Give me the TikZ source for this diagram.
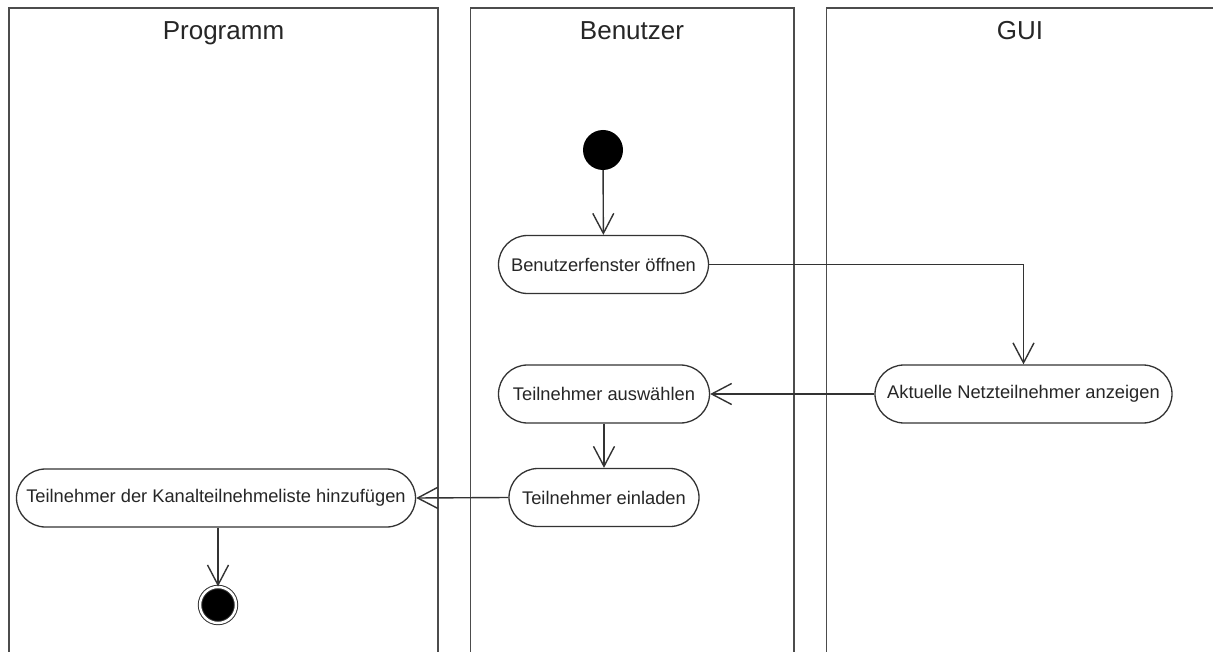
\documentclass[tikz,border=0pt]{standalone}
\usepackage{fontspec}
\setmainfont{Liberation Sans}
\usetikzlibrary{arrows.meta}
\begin{document}
\begin{tikzpicture}[x=1pt,y=-1pt,
  lane/.style={draw=black!70, line width=1.8pt},
  lanetitle/.style={font=\fontsize{26}{30}\selectfont, text=black!85, inner sep=0pt, anchor=base},
  action/.style={rectangle, rounded corners=29pt, draw=black!80, line width=1.3pt,
    minimum height=58pt, inner sep=0pt, font=\fontsize{18.3}{21}\selectfont, text=black!85},
  flow/.style={draw=black!80, line width=1.4pt,
    -{Straight Barb[length=20pt,width=21pt,line width=1.4pt]}},
  initial/.style={circle, fill=black, minimum size=40pt, inner sep=0pt},
  final/.style={circle, fill=black, draw=black!80, line width=1pt, double=white,
    double distance=2.4pt, minimum size=36pt, inner sep=0pt}
]
\useasboundingbox[fill=white] (0,0) rectangle (1213,652);

% swimlanes
\draw[lane] (9,670) -- (9,8) -- (438,8) -- (438,670);
\draw[lane] (470.5,670) -- (470.5,8) -- (794,8) -- (794,670);
\draw[lane] (826.5,670) -- (826.5,8) -- (1214,8) -- (1214,670);
\node[lanetitle] (tprog) at (223.5,39.5) {Programm};
\node[lanetitle] (tuser) at (632,39.5) {Benutzer};
\node[lanetitle] (tgui)  at (1020,39.5) {GUI};

% activities
\node[initial] (start) at (603,150) {};
\node[action, minimum width=210pt] (open)   at (603.5,264.5) {Benutzerfenster öffnen};
\node[action, minimum width=297pt] (show)   at (1023.5,394)  {Aktuelle Netzteilnehmer anzeigen};
\node[action, minimum width=211pt] (select) at (604,394)     {Teilnehmer auswählen};
\node[action, minimum width=190pt] (invite) at (604,497.5)   {Teilnehmer einladen};
\node[action, minimum width=399pt] (add)    at (216,498)     {Teilnehmer der Kanalteilnehmeliste hinzufügen};
\node[final] (end) at (218,605) {};

% control flow
\draw[flow] (start) -- (open);
\draw[flow] (open.east) -| (show.north);
\draw[flow] (show.west) -- (select.east);
\draw[flow] (select) -- (invite);
\draw[flow] (invite.west) -- (add.east);
\draw[flow] (add.south -| end.north) -- (end.north);
\end{tikzpicture}
\end{document}
